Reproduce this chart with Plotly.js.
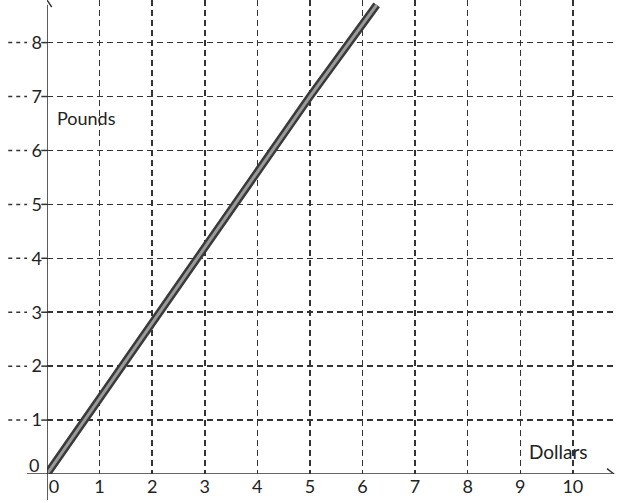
<!DOCTYPE html>
<html>
<head>
<meta charset="utf-8">
<script src="https://cdn.plot.ly/plotly-3.0.1.min.js"></script>
<style>html,body{margin:0;padding:0;background:#fff;}#chart{width:617px;height:503px;}</style>
</head>
<body>
<div id="chart"></div>
<script>
// Data
const dollars = [0, 5, 6.27];
const pounds = [0, 7, 8.7];
const xTicks = [0, 1, 2, 3, 4, 5, 6, 7, 8, 9, 10];
const xTickLabels = ['\u00a0\u00a0\u00a00', '1', '2', '3', '4', '5', '6', '7', '8', '9', '10'];
const yTicks = [1, 2, 3, 4, 5, 6, 7, 8];
const yTickLabels = ['1', '2', '3', '4', '5', '6', '7', '8'];

const font = 'Lato, "Open Sans", sans-serif';
const gridColor = '#333';
const axisColor = '#333';

const traces = [
  {x: dollars, y: pounds, mode: 'lines', line: {color: '#3a3a3a', width: 8}, hoverinfo: 'skip', showlegend: false},
  {x: dollars, y: pounds, mode: 'lines', line: {color: '#9a9a9a', width: 3}, hoverinfo: 'skip', showlegend: false}
];

const shapes = [];
// left stubs of horizontal grid lines
yTicks.forEach(v => {
  shapes.push({type: 'line', xref: 'paper', yref: 'y', x0: -0.068, x1: -0.035, y0: v, y1: v,
    line: {color: gridColor, width: 1.5, dash: '4px,4px'}});
  shapes.push({type: 'line', xref: 'paper', yref: 'y', x0: -0.01, x1: 0, y0: v, y1: v,
    line: {color: gridColor, width: 1.5}});
});
// axes
shapes.push({type: 'line', xref: 'x', yref: 'paper', x0: 0, x1: 0, y0: -0.055, y1: 0.99,
  line: {color: axisColor, width: 1.6}});
shapes.push({type: 'line', xref: 'paper', yref: 'y', x0: -0.035, x1: 0.992, y0: 0, y1: 0,
  line: {color: axisColor, width: 1.6}});
// arrow heads
shapes.push({type: 'path', xref: 'x', yref: 'y', path: 'M -0.09,8.66 L 0,8.79 L 0.09,8.66',
  line: {color: axisColor, width: 1.4}});
shapes.push({type: 'path', xref: 'x', yref: 'y', path: 'M 10.65,0.1 L 10.78,0 L 10.65,-0.1',
  line: {color: axisColor, width: 1.4}});

const annotations = [
  {text: 'Pounds', xref: 'x', yref: 'y', x: 0.15, y: 6.6, xanchor: 'left', yanchor: 'middle',
    showarrow: false, font: {family: font, size: 18, color: '#222'}},
  {text: 'Dollars', xref: 'x', yref: 'y', x: 9.12, y: 0.42, xanchor: 'left', yanchor: 'middle',
    showarrow: false, font: {family: font, size: 19, color: '#222'}},
  {text: '0', xref: 'paper', yref: 'y', x: -0.01, y: 0.17, xanchor: 'right', yanchor: 'middle',
    showarrow: false, font: {family: font, size: 18, color: '#222'}}
];

const layout = {
  width: 617, height: 503,
  margin: {l: 47, r: 0, t: 0, b: 29},
  paper_bgcolor: '#fff', plot_bgcolor: '#fff',
  showlegend: false,
  xaxis: {
    range: [0, 10.84], tickmode: 'array', tickvals: xTicks, ticktext: xTickLabels,
    showgrid: true, gridcolor: gridColor, gridwidth: 1.5, griddash: '6px,4px',
    zeroline: false, showline: false, ticks: '', fixedrange: true,
    tickfont: {family: font, size: 18, color: '#222'}
  },
  yaxis: {
    range: [0, 8.79], tickmode: 'array', tickvals: yTicks, ticktext: yTickLabels,
    showgrid: true, gridcolor: gridColor, gridwidth: 1.5, griddash: '6px,4px',
    zeroline: false, showline: false, ticks: '', fixedrange: true, ticklabelstandoff: 4,
    tickfont: {family: font, size: 18, color: '#222'}
  },
  shapes: shapes,
  annotations: annotations
};

Plotly.newPlot('chart', traces, layout, {displayModeBar: false, staticPlot: true});
</script>
</body>
</html>
